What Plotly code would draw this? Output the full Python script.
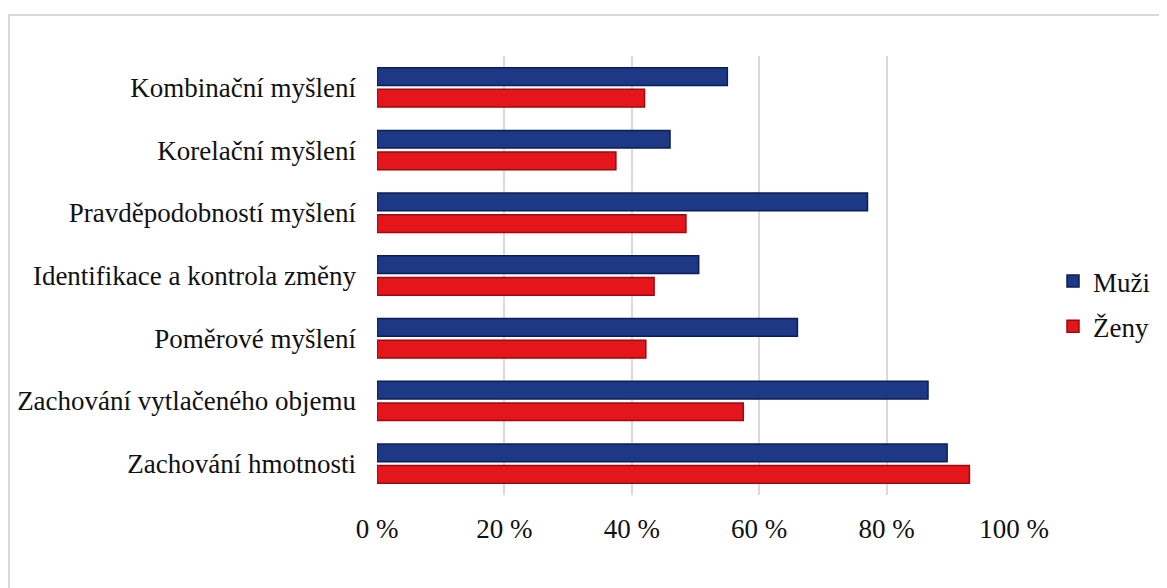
import plotly.graph_objects as go

categories = [
    "Kombinační myšlení",
    "Korelační myšlení",
    "Pravděpodobností myšlení",
    "Identifikace a kontrola změny",
    "Poměrové myšlení",
    "Zachování vytlačeného objemu",
    "Zachování hmotnosti",
]
muzi = [55.0, 46.0, 77.0, 50.5, 66.0, 86.5, 89.5]
zeny = [42.0, 37.5, 48.5, 43.5, 42.2, 57.5, 93.0]
x_ticks = [0, 20, 40, 60, 80, 100]
x_tick_labels = ["0 %", "20 %", "40 %", "60 %", "80 %", "100 %"]

OFF = 8  # page body margin
W, H = 1167 - OFF, 588 - OFF
# target page pixels: plot x 377..1014, y 56..495
L = 377 - OFF
R = W - (1014 - OFF)
T = 56 - OFF
B = H - (495 - OFF)
pw = W - L - R
ph = H - T - B

def px_to_paper_x(px):
    return (px - OFF - L) / pw

def px_to_paper_y(py):
    return (H - B - (py - OFF)) / ph

font_family = "Liberation Serif"
FS = 27

fig = go.Figure()
fig.add_trace(go.Bar(
    y=categories, x=muzi, orientation="h", name="Muži",
    legendgroup="m",
    marker=dict(color="#1D3885", line=dict(color="#0B1E55", width=1.5)),
))
fig.add_trace(go.Bar(
    y=categories, x=zeny, orientation="h", name="Ženy",
    legendgroup="z",
    marker=dict(color="#E5161B", line=dict(color="#9C0A0D", width=1.5)),
))

fig.update_layout(
    width=W, height=H,
    margin=dict(l=L, r=R, t=T, b=B, autoexpand=False),
    paper_bgcolor="white", plot_bgcolor="white",
    font=dict(family=font_family, size=FS, color="#111111"),
    barmode="group", bargap=0.31, bargroupgap=0.18,
    showlegend=True,
    legend=dict(
        x=px_to_paper_x(1053), y=px_to_paper_y(304),
        xanchor="left", yanchor="middle",
        traceorder="grouped", tracegroupgap=7,
        font=dict(family=font_family, size=FS, color="#111111"),
        itemwidth=30, bgcolor="rgba(0,0,0,0)",
    ),
    xaxis=dict(
        range=[0, 100], tickvals=x_ticks, ticktext=x_tick_labels,
        showgrid=True, gridcolor="#D9D9D9", gridwidth=2,
        zeroline=False, showline=False, ticks="", automargin=False,
        ticklabelstandoff=15, fixedrange=True,
    ),
    yaxis=dict(
        autorange="reversed", showgrid=False, zeroline=False, automargin=False,
        showline=False, ticks="", ticklabelstandoff=20, fixedrange=True,
    ),
    shapes=[dict(
        type="rect", xref="paper", yref="paper",
        x0=px_to_paper_x(9), x1=px_to_paper_x(1185),
        y0=px_to_paper_y(15), y1=px_to_paper_y(610),
        line=dict(color="#D9D9D9", width=2), fillcolor="rgba(0,0,0,0)",
        layer="below",
    )],
)

fig.write_html("out.html")
